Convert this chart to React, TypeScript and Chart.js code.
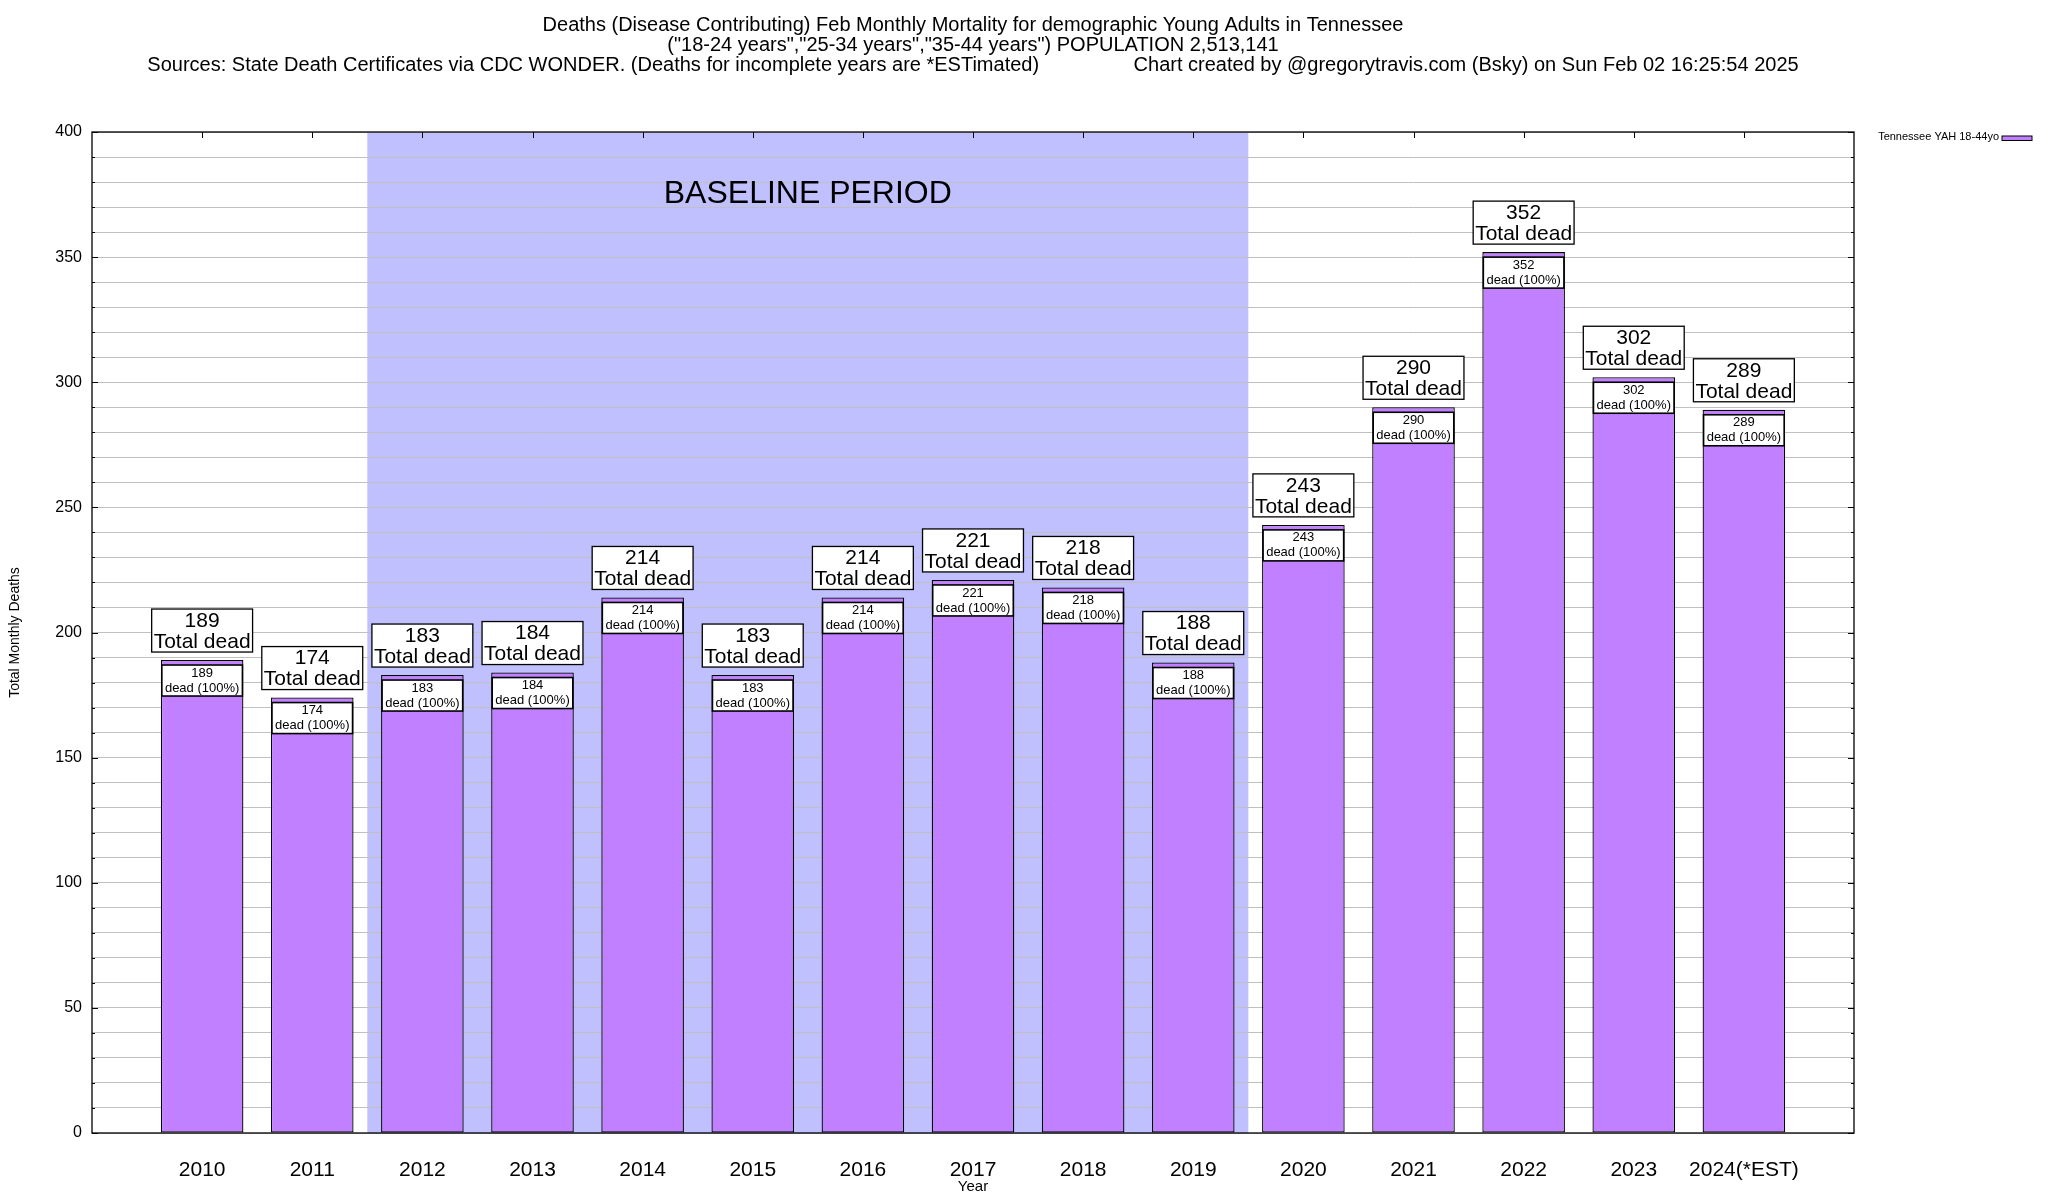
import React, { useEffect, useRef } from "react";
import { Chart, registerables } from "chart.js";

Chart.register(...registerables);

const YEARS = ["2010", "2011", "2012", "2013", "2014", "2015", "2016", "2017", "2018", "2019", "2020", "2021", "2022", "2023", "2024(*EST)"];
const DEATHS = [189, 174, 183, 184, 214, 183, 214, 221, 218, 188, 243, 290, 352, 302, 289];
const SERIES_NAME = "Tennessee YAH 18-44yo";
const BASELINE_FROM = "2012";
const BASELINE_TO = "2019";
const BASELINE_LABEL = "BASELINE PERIOD";
const BASELINE_LABEL_Y = 375;
const Y_MIN = 0;
const Y_MAX = 400;
const Y_GRID_STEP = 10;
const Y_LABEL_STEP = 50;
const TITLE_LINES = [
  "Deaths (Disease Contributing) Feb Monthly Mortality for demographic Young Adults in Tennessee",
  "(\"18-24 years\",\"25-34 years\",\"35-44 years\") POPULATION 2,513,141",
  "Sources: State Death Certificates via CDC WONDER. (Deaths for incomplete years are *ESTimated)                 Chart created by @gregorytravis.com (Bsky) on Sun Feb 02 16:25:54 2025",
];
const X_TITLE = "Year";
const Y_TITLE = "Total Monthly Deaths";

const FONT = "'Liberation Sans', Arial, Helvetica, sans-serif";
const BAR_COLOR = "#c080ff";
const SHADE_COLOR = "#c0c0ff";
const GRID_COLOR = "#c0c0c0";

const PADDED_LABELS = ["", ...YEARS, ""];
const PADDED_DATA: (number | null)[] = [null, ...DEATHS, null];

const overlayPlugin = {
  id: "overlay",
  beforeDraw(chart: any) {
    const { ctx, chartArea: ca, scales } = chart;
    const x = scales.x;
    const i0 = PADDED_LABELS.indexOf(BASELINE_FROM) - 0.5;
    const i1 = PADDED_LABELS.indexOf(BASELINE_TO) + 0.5;
    const x0 = x.getPixelForValue(i0);
    const x1 = x.getPixelForValue(i1);
    ctx.save();
    ctx.fillStyle = SHADE_COLOR;
    ctx.fillRect(x0, ca.top, x1 - x0, ca.bottom - ca.top);
    ctx.restore();
  },
  beforeDatasetsDraw(chart: any) {
    const { ctx, scales } = chart;
    const x = scales.x;
    const y = scales.y;
    const i0 = PADDED_LABELS.indexOf(BASELINE_FROM) - 0.5;
    const i1 = PADDED_LABELS.indexOf(BASELINE_TO) + 0.5;
    const cx = (x.getPixelForValue(i0) + x.getPixelForValue(i1)) / 2;
    ctx.save();
    ctx.fillStyle = "#000";
    ctx.font = `32px ${FONT}`;
    ctx.textAlign = "center";
    ctx.textBaseline = "middle";
    ctx.fillText(BASELINE_LABEL, cx, y.getPixelForValue(BASELINE_LABEL_Y));
    ctx.restore();
  },
  afterDatasetsDraw(chart: any) {
    const { ctx, chartArea: ca, scales } = chart;
    const x = scales.x;
    const y = scales.y;
    ctx.save();
    ctx.strokeStyle = "#000";
    ctx.lineWidth = 1;
    for (let v = Y_MIN; v <= Y_MAX; v += Y_GRID_STEP) {
      const py = Math.round(y.getPixelForValue(v)) + 0.5;
      const len = v % Y_LABEL_STEP === 0 ? 6 : 3;
      ctx.beginPath();
      ctx.moveTo(ca.left, py);
      ctx.lineTo(ca.left + len, py);
      ctx.moveTo(ca.right, py);
      ctx.lineTo(ca.right - len, py);
      ctx.stroke();
    }
    YEARS.forEach((yr) => {
      const px = Math.round(x.getPixelForValue(PADDED_LABELS.indexOf(yr))) + 0.5;
      ctx.beginPath();
      ctx.moveTo(px, ca.top);
      ctx.lineTo(px, ca.top + 6);
      ctx.stroke();
    });
    ctx.lineWidth = 1.3;
    ctx.strokeRect(ca.left, ca.top, ca.right - ca.left, ca.bottom - ca.top);

    const meta = chart.getDatasetMeta(0);
    meta.data.forEach((bar: any, i: number) => {
      const v = PADDED_DATA[i];
      if (v == null) return;
      const w = bar.width;
      const left = bar.x - w / 2;
      const top = bar.y + 5;
      ctx.fillStyle = "#fff";
      ctx.fillRect(left + 1, top, w - 2, 31);
      ctx.strokeStyle = "#000";
      ctx.lineWidth = 1.6;
      ctx.strokeRect(left + 1, top, w - 2, 31);
      ctx.fillStyle = "#000";
      ctx.font = `13px ${FONT}`;
      ctx.textAlign = "center";
      ctx.textBaseline = "middle";
      ctx.fillText(String(v), bar.x, top + 8);
      ctx.fillText("dead (100%)", bar.x, top + 23);
      ctx.font = `21px ${FONT}`;
      const tw = ctx.measureText("Total dead").width + 4;
      const bh = 43;
      const bt = bar.y - 8 - bh;
      ctx.fillStyle = "#fff";
      ctx.fillRect(bar.x - tw / 2, bt, tw, bh);
      ctx.lineWidth = 1.3;
      ctx.strokeRect(bar.x - tw / 2, bt, tw, bh);
      ctx.fillStyle = "#000";
      ctx.fillText(String(v), bar.x, bt + 12);
      ctx.fillText("Total dead", bar.x, bt + 33);
    });

    ctx.font = `11px ${FONT}`;
    ctx.textAlign = "right";
    ctx.textBaseline = "middle";
    ctx.fillStyle = "#000";
    ctx.fillText(SERIES_NAME, 1999, 137);
    ctx.fillStyle = BAR_COLOR;
    ctx.fillRect(2002, 136, 30, 4.5);
    ctx.lineWidth = 1;
    ctx.strokeStyle = "#000";
    ctx.strokeRect(2002, 136, 30, 4.5);
    ctx.restore();
  },
};

export default function App() {
  const ref = useRef<HTMLCanvasElement>(null);
  useEffect(() => {
    if (!ref.current) return;
    const chart = new Chart(ref.current, {
      type: "bar",
      data: {
        labels: PADDED_LABELS,
        datasets: [
          {
            label: SERIES_NAME,
            data: PADDED_DATA,
            backgroundColor: BAR_COLOR,
            borderColor: "#000",
            borderWidth: 1.3,
            borderSkipped: false,
            categoryPercentage: 1,
            barPercentage: 0.75,
          },
        ],
      },
      options: {
        responsive: false,
        animation: false,
        devicePixelRatio: 1,
        layout: { padding: { left: 0, right: 194, top: 0, bottom: 0 } },
        plugins: {
          legend: { display: false },
          tooltip: { enabled: false },
          title: {
            display: true,
            fullSize: false,
            text: TITLE_LINES,
            color: "#000",
            font: { family: FONT, size: 20, weight: "normal", lineHeight: 1.02 },
            padding: { top: 14.8, bottom: 56 },
          },
        },
        scales: {
          x: {
            type: "category",
            offset: false,
            grid: { display: false, drawTicks: false },
            border: { display: false },
            ticks: {
              color: "#000",
              font: { family: FONT, size: 21 },
              padding: 24.4,
              autoSkip: false,
              maxRotation: 0,
            },
            title: {
              display: true,
              text: X_TITLE,
              color: "#000",
              font: { family: FONT, size: 15 },
              padding: { top: 0, bottom: 4 },
            },
            afterFit: (s: any) => {
              s.height = 67;
            },
          },
          y: {
            min: Y_MIN,
            max: Y_MAX,
            grid: { color: GRID_COLOR, lineWidth: 1, drawTicks: false },
            border: { display: false },
            ticks: {
              stepSize: Y_GRID_STEP,
              autoSkip: false,
              color: "#000",
              font: { family: FONT, size: 16 },
              padding: 10,
              callback: (v: any) => (Number(v) % Y_LABEL_STEP === 0 ? String(v) : ""),
            },
            title: {
              display: true,
              text: Y_TITLE,
              color: "#000",
              font: { family: FONT, size: 14 },
              padding: { top: 6.6, bottom: 0 },
            },
            afterFit: (s: any) => {
              s.width = 92;
            },
          },
        },
      },
      plugins: [overlayPlugin],
    });
    return () => chart.destroy();
  }, []);
  return (
    <div style={{ position: "absolute", left: 0, top: 0, width: 2048, height: 1200, background: "#fff" }}>
      <canvas ref={ref} width={2048} height={1200} style={{ width: 2048, height: 1200, display: "block" }} />
    </div>
  );
}
